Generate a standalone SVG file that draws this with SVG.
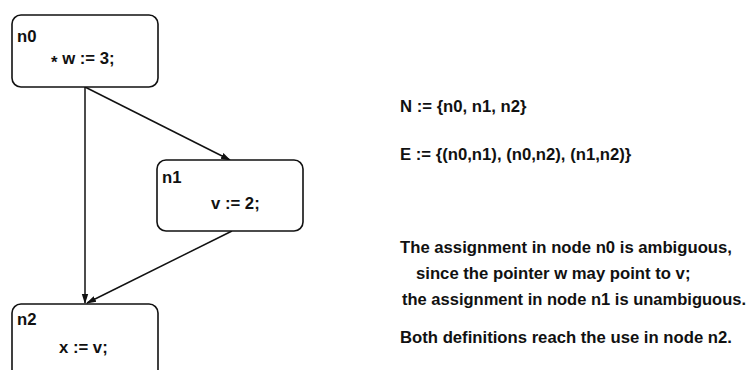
<svg xmlns="http://www.w3.org/2000/svg" width="752" height="370" viewBox="0 0 752 370">
<style>
  .box { fill: #fff; stroke: #111; stroke-width: 1.6; }
  .t { font-family: "Liberation Sans", Arial, Helvetica, sans-serif; font-size: 16.7px; fill: #111; font-weight: bold; }
  .edge { stroke: #111; stroke-width: 1.5; fill: none; marker-end: url(#ah); }
</style>
<defs>
  <marker id="ah" markerWidth="10" markerHeight="8" refX="9" refY="4" orient="auto" markerUnits="userSpaceOnUse">
    <path d="M0,0.8 L10,4 L0,7.2 Z" fill="#111"/>
  </marker>
</defs>
<rect width="752" height="370" fill="#fff"/>
<g id="connectors">
  <line class="edge" x1="85" y1="87" x2="85" y2="303"/>
  <line class="edge" x1="85" y1="87" x2="230" y2="160"/>
  <line class="edge" x1="232" y1="231" x2="87" y2="303"/>
</g>
<g id="n0">
  <rect class="box" x="12" y="15" width="146" height="72" rx="9"/>
  <text class="t" x="17" y="42">n0</text>
  <text class="t" x="51" y="64"><tspan dy="4">*</tspan><tspan dy="-4"> w := 3;</tspan></text>
</g>
<g id="n1">
  <rect class="box" x="157" y="160" width="146" height="71" rx="9"/>
  <text class="t" x="162" y="183">n1</text>
  <text class="t" x="211" y="209">v := 2;</text>
</g>
<g id="n2">
  <rect class="box" x="12" y="304" width="146" height="80" rx="9"/>
  <text class="t" x="17" y="325">n2</text>
  <text class="t" x="59" y="353">x := v;</text>
</g>
<g id="notes">
  <text class="t" x="400" y="112">N := {n0, n1, n2}</text>
  <text class="t" x="400" y="160">E := {(n0,n1), (n0,n2), (n1,n2)}</text>
  <text class="t" x="400" y="253">The assignment in node n0 is ambiguous,</text>
  <text class="t" x="416" y="279">since the pointer w may point to v;</text>
  <text class="t" x="402" y="305" textLength="344" lengthAdjust="spacingAndGlyphs">the assignment in node n1 is unambiguous.</text>
  <text class="t" x="400" y="343">Both definitions reach the use in node n2.</text>
</g>
</svg>
